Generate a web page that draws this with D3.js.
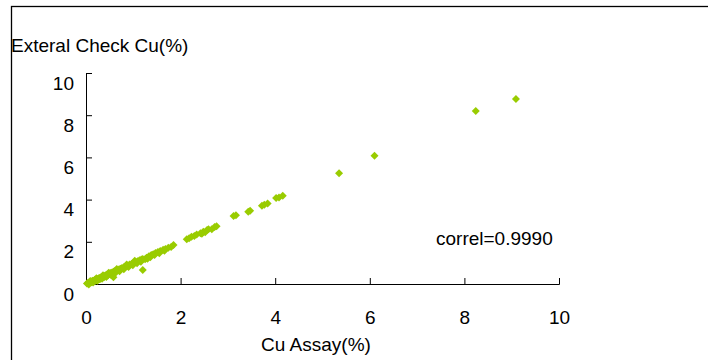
<!DOCTYPE html>
<html>
<head>
<meta charset="utf-8">
<script src="https://cdn.jsdelivr.net/npm/d3@7"></script>
<style>
  body { margin: 0; background: #fff; }
  svg { display: block; font-family: "Liberation Sans", Arial, sans-serif; }
  .axis path, .axis line { stroke: #000; stroke-width: 1; }
  .axis text { font-size: 19px; fill: #000; }
</style>
</head>
<body>
<svg class="chart" width="708" height="360"></svg>
<script>
// Cu assay vs external check
var cuAssay = [
  0.02, 0.04, 0.05, 0.07, 0.08, 0.10, 0.11, 0.13, 0.14, 0.16,
  0.18, 0.19, 0.21, 0.23, 0.25, 0.27, 0.29, 0.31, 0.33, 0.35,
  0.37, 0.40, 0.42, 0.44, 0.47, 0.50, 0.52, 0.55, 0.58, 0.60,
  0.63, 0.66, 0.70, 0.73, 0.76, 0.80, 0.84, 0.88, 0.92, 0.96,
  1.00, 1.05, 1.09, 1.13, 1.17, 1.20, 1.28, 1.33, 1.38, 1.42,
  1.47, 1.52, 1.57, 1.63, 1.68, 1.74, 1.85, 2.13, 2.18, 2.23,
  2.29, 2.34, 2.42, 2.48, 2.56, 2.59, 2.72, 2.76, 3.12, 3.17,
  3.43, 3.47, 3.72, 3.77, 3.84, 4.02, 4.08, 4.16, 5.35, 6.10,
  8.24, 9.09, 0.58, 1.20, 0.12, 0.20, 0.28, 0.38, 0.46, 0.30,
  0.06, 0.15, 0.24, 0.34, 0.43, 0.53, 0.62, 0.71, 0.80, 0.90,
  0.99, 1.08, 1.16, 1.25, 1.30, 1.36, 1.45, 1.55, 1.66, 1.80,
  2.45, 2.52, 2.66, 0.09, 0.22, 0.36, 0.48, 0.65, 0.86, 1.03
];
var extCheck = [
  0.02, 0.03, 0.06, 0.06, 0.09, 0.09, 0.12, 0.12, 0.15, 0.15,
  0.17, 0.20, 0.20, 0.23, 0.24, 0.27, 0.28, 0.31, 0.32, 0.35,
  0.37, 0.39, 0.42, 0.44, 0.46, 0.50, 0.52, 0.54, 0.58, 0.60,
  0.63, 0.65, 0.70, 0.72, 0.76, 0.79, 0.83, 0.87, 0.92, 0.95,
  1.00, 1.04, 1.08, 1.13, 1.16, 1.19, 1.25, 1.32, 1.38, 1.41,
  1.47, 1.52, 1.56, 1.62, 1.66, 1.72, 1.85, 2.12, 2.17, 2.24,
  2.27, 2.35, 2.40, 2.48, 2.56, 2.60, 2.70, 2.74, 3.22, 3.26,
  3.43, 3.47, 3.71, 3.76, 3.82, 4.08, 4.10, 4.18, 5.25, 6.08,
  8.20, 8.77, 0.32, 0.66, 0.08, 0.15, 0.22, 0.32, 0.40, 0.24,
  -0.02, 0.07, 0.15, 0.25, 0.33, 0.43, 0.52, 0.61, 0.70, 0.80,
  0.89, 0.98, 1.06, 1.17, 1.20, 1.27, 1.37, 1.46, 1.58, 1.75,
  2.38, 2.45, 2.60, 0.14, 0.27, 0.41, 0.53, 0.71, 0.92, 1.10
];
var xTicks = [0, 2, 4, 6, 8, 10];
var yTicks = [0, 2, 4, 6, 8, 10];
var correlLabel = "correl=0.9990";

var svg = d3.select(".chart");

// frame round the chart area (only top and left edges fall inside the picture)
svg.append("rect")
    .attr("x", 11.5)
    .attr("y", 6.5)
    .attr("width", 720)
    .attr("height", 400)
    .attr("fill", "none")
    .attr("stroke", "#000")
    .attr("stroke-width", 1.3);

var x = d3.scaleLinear().domain([0, 10]).range([86, 559]);
var y = d3.scaleLinear().domain([0, 10]).range([284, 73]);

var xAxis = d3.axisBottom(x)
    .tickValues(xTicks)
    .tickSizeInner(-6)
    .tickSizeOuter(-6)
    .tickPadding(27);

var yAxis = d3.axisLeft(y)
    .tickValues(yTicks)
    .tickSizeInner(-6)
    .tickSizeOuter(0)
    .tickPadding(12);

var yAxisGroup = svg.append("g")
    .attr("class", "axis")
    .attr("transform", "translate(" + x(0) + ",0)")
    .call(yAxis);

// labels sit a little below their ticks in the original
yAxisGroup.selectAll("text").attr("y", 10);

svg.append("g")
    .attr("class", "axis")
    .attr("transform", "translate(0," + y(0) + ")")
    .call(xAxis);

// points as small diamonds
var diamond = d3.symbol().type(d3.symbolSquare).size(32);
svg.append("g")
    .selectAll("path")
    .data(cuAssay)
    .enter().append("path")
    .attr("d", diamond)
    .attr("fill", "#99cc00")
    .attr("transform", function (d, i) {
        return "translate(" + x(d) + "," + y(extCheck[i]) + ") rotate(45)";
    });

// y-axis title
svg.append("text")
    .attr("x", 11)
    .attr("y", 52)
    .style("font-size", "19px")
    .text("Exteral Check Cu(%)");

// x-axis title
svg.append("text")
    .attr("x", 316)
    .attr("y", 351)
    .style("text-anchor", "middle")
    .style("font-size", "19px")
    .text("Cu Assay(%)");

// correlation note
svg.append("text")
    .attr("x", 436)
    .attr("y", 245)
    .style("font-size", "19px")
    .text(correlLabel);
</script>
</body>
</html>
